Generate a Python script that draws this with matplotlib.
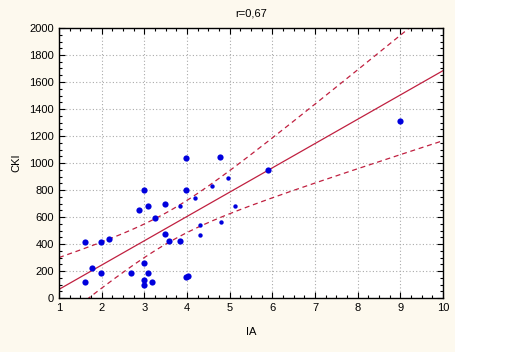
import numpy as np
import matplotlib
matplotlib.use("Agg")
import matplotlib.pyplot as plt
from matplotlib.patches import Rectangle
from matplotlib.ticker import MultipleLocator, AutoMinorLocator

plt.rcParams['font.family'] = ['Liberation Sans', 'DejaVu Sans']

ia_big = [1.6, 1.77, 1.6, 1.98, 1.98, 2.17, 2.69, 2.88, 2.99, 2.99, 2.99, 2.99,
          3.09, 3.09, 3.18, 3.25, 3.48, 3.48, 3.58, 3.84, 3.98, 3.98, 3.98, 4.02,
          4.77, 5.9, 9.0]
cki_big = [415, 222, 118, 415, 185, 437, 185, 652, 800, 259, 133, 96,
           681, 185, 118, 593, 696, 474, 422, 422, 1037, 800, 156, 163,
           1044, 948, 1311]
ia_small = [3.84, 4.19, 4.3, 4.3, 4.59, 4.8, 4.96, 5.12]
cki_small = [681, 741, 541, 467, 830, 563, 889, 681]

# regression line and 95% confidence band
fit_intercept = -116.0
fit_slope = 180.0
band_min = 115.0      # half-width of band at its narrowest
band_center = 3.6     # x where band is narrowest
band_curv = 6250.0    # growth of squared half-width

title = "r=0,67"
xlabel = "IA"
ylabel = "CKI"

xs = np.linspace(1, 10, 300)
yfit = fit_intercept + fit_slope * xs
half = np.sqrt(band_min ** 2 + band_curv * (xs - band_center) ** 2)

fig = plt.figure(figsize=(5.12, 3.52), dpi=100)
fig.patch.set_facecolor('white')
fig.patches.append(Rectangle((0, 0), 455 / 512, 1, transform=fig.transFigure,
                             facecolor='#FDF9EE', edgecolor='none', zorder=-10))
ax = fig.add_axes([59 / 512, 1 - 298 / 352, 384 / 512, 270 / 352])
ax.set_facecolor('white')

ax.grid(True, color='#AAAAAA', linestyle=(0, (1, 2)), linewidth=0.8)
ax.set_axisbelow(True)

line_col = '#C02040'
ax.plot(xs, yfit, color=line_col, lw=0.9)
ax.plot(xs, yfit + half, color=line_col, lw=0.9, ls=(0, (4, 3)))
ax.plot(xs, yfit - half, color=line_col, lw=0.9, ls=(0, (4, 3)))

ax.scatter(ia_big, cki_big, s=20, color='#0000DD', zorder=5, linewidths=0)
ax.scatter(ia_small, cki_small, s=10, color='#0000DD', zorder=5, linewidths=0)

ax.set_xlim(1, 10)
ax.set_ylim(0, 2000)
ax.xaxis.set_major_locator(MultipleLocator(1))
ax.yaxis.set_major_locator(MultipleLocator(200))
ax.xaxis.set_minor_locator(AutoMinorLocator(4))
ax.yaxis.set_minor_locator(AutoMinorLocator(4))
ax.tick_params(which='both', direction='in', top=True, right=True, labelsize=8,
               color='black', width=0.8)
ax.tick_params(which='major', length=4)
ax.tick_params(which='minor', length=2)
for sp in ax.spines.values():
    sp.set_linewidth(1.0)

ax.set_title(title, fontsize=8, pad=8)
ax.set_xlabel(xlabel, fontsize=8, labelpad=10)
ax.set_ylabel(ylabel, fontsize=8, labelpad=6)

fig.savefig('out.png', dpi=100)
